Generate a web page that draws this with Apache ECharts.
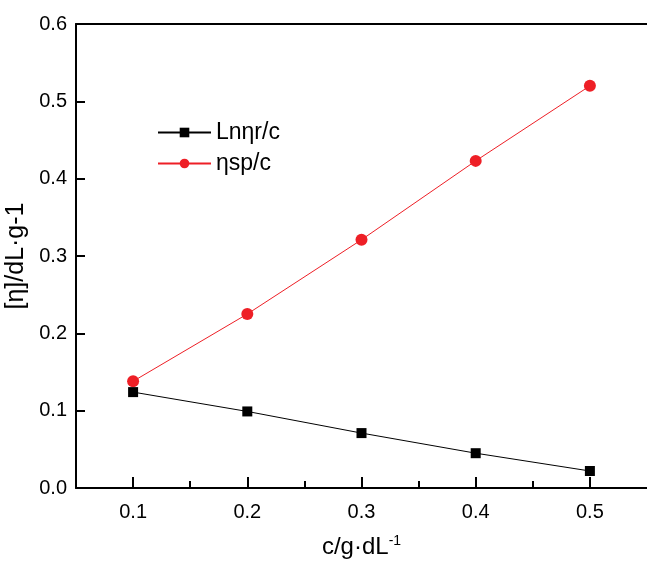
<!DOCTYPE html>
<html>
<head>
<meta charset="utf-8">
<script src="https://cdn.jsdelivr.net/npm/echarts@6/dist/echarts.min.js"></script>
<style>
  html, body { margin: 0; padding: 0; background: #fff; }
  #chart { width: 647px; height: 565px; }
</style>
</head>
<body>
<div id="chart"></div>
<script>
// Concentration (g/dL) and the two reduced-viscosity quantities
const concentrations = [0.1, 0.2, 0.3, 0.4, 0.5];
const lnEtaROverC = [0.124, 0.099, 0.071, 0.045, 0.022];
const etaSpOverC = [0.138, 0.225, 0.321, 0.423, 0.520];
const xMajorTicks = [0.1, 0.2, 0.3, 0.4, 0.5];
const xMinorTicks = [0.15, 0.25, 0.35, 0.45];

const FONT = 'Liberation Sans, Arial, sans-serif';
const RED = '#ee1f26';

const chart = echarts.init(document.getElementById('chart'), null, { renderer: 'canvas' });

chart.setOption({
  backgroundColor: '#fff',
  animation: false,
  grid: { left: 76, top: 24, right: 0, bottom: 77, containLabel: false, outerBoundsMode: 'none' },
  legend: {
    orient: 'vertical',
    left: 152,
    top: 116,
    itemWidth: 53,
    itemHeight: 12,
    itemGap: 8,
    textStyle: { fontFamily: FONT, fontSize: 23, color: '#000' },
    data: ['Lnηr/c', 'ηsp/c']
  },
  xAxis: [
    {
      type: 'value',
      min: 0.05,
      max: 0.55,
      interval: 0.05,
      position: 'bottom',
      name: '{a|c/g·dL}{s|-1}',
      nameLocation: 'middle',
      nameGap: 46,
      nameTextStyle: {
        fontFamily: FONT, color: '#000',
        rich: {
          a: { fontFamily: FONT, fontSize: 24, color: '#000' },
          s: { fontFamily: FONT, fontSize: 14, color: '#000', padding: [0, 0, 12, 0] }
        }
      },
      axisLine: { show: true, lineStyle: { color: '#000', width: 2 } },
      axisTick: { show: true, inside: true, length: 11, lineStyle: { color: '#000', width: 2 }, customValues: xMajorTicks },
      axisLabel: {
        fontFamily: FONT, fontSize: 20, color: '#000', margin: 14,
        customValues: xMajorTicks,
        formatter: v => v.toFixed(1)
      },
      splitLine: { show: false }
    },
    {
      type: 'value',
      min: 0.05,
      max: 0.55,
      interval: 0.05,
      position: 'bottom',
      axisLine: { show: false },
      axisTick: { show: true, inside: true, length: 7, lineStyle: { color: '#000', width: 2 }, customValues: xMinorTicks },
      axisLabel: { show: false },
      splitLine: { show: false }
    },
    {
      type: 'value',
      min: 0.05,
      max: 0.55,
      position: 'top',
      axisLine: { show: true, lineStyle: { color: '#000', width: 2 } },
      axisTick: { show: false },
      axisLabel: { show: false },
      splitLine: { show: false }
    }
  ],
  yAxis: {
    type: 'value',
    min: 0,
    max: 0.6,
    interval: 0.1,
    name: '[η]/dL·g-1',
    nameLocation: 'middle',
    nameGap: 43,
    nameTextStyle: { fontFamily: FONT, fontSize: 25, color: '#000' },
    axisLine: { show: true, lineStyle: { color: '#000', width: 2 } },
    axisTick: { show: true, inside: true, length: 9, lineStyle: { color: '#000', width: 2 } },
    axisLabel: { fontFamily: FONT, fontSize: 20, color: '#000', margin: 9, formatter: v => v.toFixed(1) },
    splitLine: { show: false }
  },
  series: [
    {
      name: 'Lnηr/c',
      type: 'line',
      xAxisIndex: 0,
      data: concentrations.map((c, i) => [c, lnEtaROverC[i]]),
      symbol: 'rect',
      symbolSize: 10,
      itemStyle: { color: '#000' },
      lineStyle: { color: '#000', width: 1 },
      z: 3
    },
    {
      name: 'ηsp/c',
      type: 'line',
      xAxisIndex: 0,
      data: concentrations.map((c, i) => [c, etaSpOverC[i]]),
      symbol: 'circle',
      symbolSize: 12,
      itemStyle: { color: RED },
      lineStyle: { color: RED, width: 1 },
      z: 2
    }
  ]
});
</script>
</body>
</html>
